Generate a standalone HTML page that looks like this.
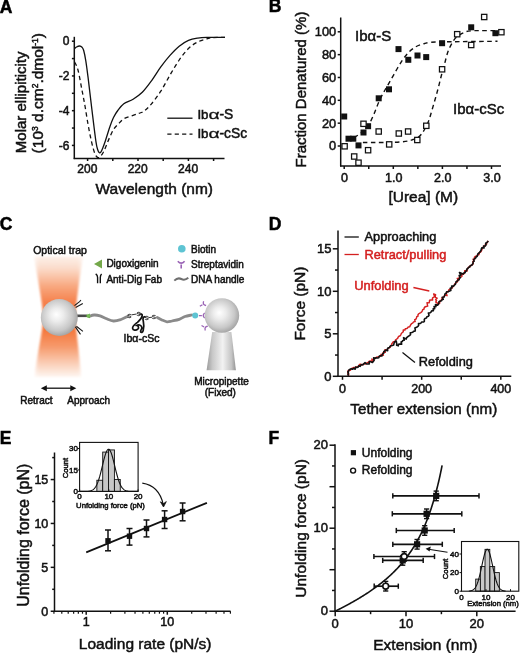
<!DOCTYPE html>
<html><head><meta charset="utf-8"><style>
html,body{margin:0;padding:0;background:#fff;}
svg{display:block;will-change:transform;}
text{font-family:"Liberation Sans", sans-serif;}
</style></head><body>
<svg width="520" height="653" viewBox="0 0 520 653">
<rect width="520" height="653" fill="#fff"/>
<text x="-0.30" y="12.70" font-size="17.5" text-anchor="start" font-weight="bold" stroke="#000" stroke-width="0.5" fill="#000" >A</text>
<text x="268.80" y="11.50" font-size="17.5" text-anchor="start" font-weight="bold" stroke="#000" stroke-width="0.5" fill="#000" >B</text>
<text x="-0.20" y="229.60" font-size="17.5" text-anchor="start" font-weight="bold" stroke="#000" stroke-width="0.5" fill="#000" >C</text>
<text x="268.80" y="229.50" font-size="17.5" text-anchor="start" font-weight="bold" stroke="#000" stroke-width="0.5" fill="#000" >D</text>
<text x="-0.30" y="443.90" font-size="17.5" text-anchor="start" font-weight="bold" stroke="#000" stroke-width="0.5" fill="#000" >E</text>
<text x="268.60" y="443.90" font-size="17.5" text-anchor="start" font-weight="bold" stroke="#000" stroke-width="0.5" fill="#000" >F</text>
<line x1="74.30" y1="36.80" x2="74.30" y2="159.10" stroke="#111" stroke-width="1.5" />
<line x1="73.70" y1="158.50" x2="224.50" y2="158.50" stroke="#111" stroke-width="1.5" />
<line x1="71.90" y1="41.20" x2="74.30" y2="41.20" stroke="#111" stroke-width="1.5" />
<line x1="71.90" y1="58.57" x2="74.30" y2="58.57" stroke="#111" stroke-width="1.5" />
<line x1="71.90" y1="75.94" x2="74.30" y2="75.94" stroke="#111" stroke-width="1.5" />
<line x1="71.90" y1="93.31" x2="74.30" y2="93.31" stroke="#111" stroke-width="1.5" />
<line x1="71.90" y1="110.68" x2="74.30" y2="110.68" stroke="#111" stroke-width="1.5" />
<line x1="71.90" y1="128.05" x2="74.30" y2="128.05" stroke="#111" stroke-width="1.5" />
<line x1="71.90" y1="145.42" x2="74.30" y2="145.42" stroke="#111" stroke-width="1.5" />
<text x="69.40" y="45.40" font-size="12" text-anchor="end" stroke="#111" stroke-width="0.5" fill="#111" >0</text>
<text x="69.40" y="80.14" font-size="12" text-anchor="end" stroke="#111" stroke-width="0.5" fill="#111" >-2</text>
<text x="69.40" y="114.88" font-size="12" text-anchor="end" stroke="#111" stroke-width="0.5" fill="#111" >-4</text>
<text x="69.40" y="149.62" font-size="12" text-anchor="end" stroke="#111" stroke-width="0.5" fill="#111" >-6</text>
<line x1="87.60" y1="158.50" x2="87.60" y2="161.00" stroke="#111" stroke-width="1.5" />
<line x1="112.80" y1="158.50" x2="112.80" y2="161.00" stroke="#111" stroke-width="1.5" />
<line x1="138.00" y1="158.50" x2="138.00" y2="161.00" stroke="#111" stroke-width="1.5" />
<line x1="163.20" y1="158.50" x2="163.20" y2="161.00" stroke="#111" stroke-width="1.5" />
<line x1="188.40" y1="158.50" x2="188.40" y2="161.00" stroke="#111" stroke-width="1.5" />
<line x1="213.60" y1="158.50" x2="213.60" y2="161.00" stroke="#111" stroke-width="1.5" />
<text x="87.30" y="173.00" font-size="12" text-anchor="middle" stroke="#111" stroke-width="0.5" fill="#111" >200</text>
<text x="137.70" y="173.00" font-size="12" text-anchor="middle" stroke="#111" stroke-width="0.5" fill="#111" >220</text>
<text x="188.10" y="173.00" font-size="12" text-anchor="middle" stroke="#111" stroke-width="0.5" fill="#111" >240</text>
<text x="154.30" y="193.60" font-size="15.5" text-anchor="middle" stroke="#111" stroke-width="0.5" fill="#111" >Wavelength (nm)</text>
<text transform="translate(26.30,153.20) rotate(-90)" font-size="15" text-anchor="start" stroke="#111" stroke-width="0.5" fill="#111" >Molar ellipiticity</text>
<text transform="translate(43.40,153.40) rotate(-90)" font-size="15.5" text-anchor="start" stroke="#111" stroke-width="0.5" fill="#111" >(10<tspan font-size="8.5" dy="-5.5">3</tspan><tspan dy="5.5"> d.cm</tspan><tspan font-size="8.5" dy="-5.5">2</tspan><tspan dy="5.5">.dmol</tspan><tspan font-size="8.5" dy="-5.5">-1</tspan><tspan dy="5.5">)</tspan></text>
<path d="M74.30,48.80 C74.67,48.50 75.62,47.47 76.50,47.00 C77.38,46.53 78.68,45.97 79.60,46.00 C80.52,46.03 81.32,46.45 82.00,47.20 C82.68,47.95 83.07,48.23 83.70,50.50 C84.33,52.77 85.07,56.27 85.80,60.80 C86.53,65.33 87.08,69.57 88.10,77.70 C89.12,85.83 90.60,98.98 91.90,109.60 C93.20,120.22 94.92,134.67 95.90,141.40 C96.88,148.13 97.22,148.12 97.80,150.00 C98.38,151.88 98.87,152.40 99.40,152.70 C99.93,153.00 100.43,152.58 101.00,151.80 C101.57,151.02 102.05,149.88 102.80,148.00 C103.55,146.12 104.33,144.00 105.50,140.50 C106.67,137.00 108.47,130.83 109.80,127.00 C111.13,123.17 112.17,120.25 113.50,117.50 C114.83,114.75 116.08,112.78 117.80,110.50 C119.52,108.22 121.25,105.68 123.80,103.80 C126.35,101.92 130.02,101.12 133.10,99.20 C136.18,97.28 139.23,95.37 142.30,92.30 C145.37,89.23 148.42,85.03 151.50,80.80 C154.58,76.57 157.72,71.13 160.80,66.90 C163.88,62.67 166.93,58.85 170.00,55.40 C173.07,51.95 176.12,48.70 179.20,46.20 C182.28,43.70 185.42,41.75 188.50,40.40 C191.58,39.05 194.63,38.60 197.70,38.10 C200.77,37.60 202.35,37.52 206.90,37.40 C211.45,37.28 221.98,37.40 225.00,37.40" stroke="#111" stroke-width="1.3" fill="none" />
<path d="M74.60,62.00 C75.17,63.33 76.78,65.38 78.00,70.00 C79.22,74.62 80.73,83.70 81.90,89.70 C83.07,95.70 84.00,100.37 85.00,106.00 C86.00,111.63 86.98,118.33 87.90,123.50 C88.82,128.67 89.67,133.02 90.50,137.00 C91.33,140.98 92.07,144.40 92.90,147.40 C93.73,150.40 94.65,153.30 95.50,155.00 C96.35,156.70 97.17,157.35 98.00,157.60 C98.83,157.85 99.53,157.53 100.50,156.50 C101.47,155.47 102.80,153.32 103.80,151.40 C104.80,149.48 105.50,147.40 106.50,145.00 C107.50,142.60 108.63,139.58 109.80,137.00 C110.97,134.42 112.17,131.58 113.50,129.50 C114.83,127.42 116.08,126.28 117.80,124.50 C119.52,122.72 121.25,120.32 123.80,118.80 C126.35,117.28 130.40,116.37 133.10,115.40 C135.80,114.43 138.08,113.77 140.00,113.00 C141.92,112.23 142.68,112.33 144.60,110.80 C146.52,109.27 148.80,107.07 151.50,103.80 C154.20,100.53 157.72,96.00 160.80,91.20 C163.88,86.40 166.93,80.20 170.00,75.00 C173.07,69.80 176.12,64.42 179.20,60.00 C182.28,55.58 185.42,51.50 188.50,48.50 C191.58,45.50 194.63,43.62 197.70,42.00 C200.77,40.38 204.52,39.53 206.90,38.80 C209.28,38.07 208.98,37.83 212.00,37.60 C215.02,37.37 222.83,37.43 225.00,37.40" stroke="#111" stroke-width="1.3" fill="none" stroke-dasharray="4.2 3.2"/>
<line x1="167.30" y1="118.20" x2="192.50" y2="118.20" stroke="#111" stroke-width="1.3" />
<line x1="167.30" y1="134.20" x2="192.50" y2="134.20" stroke="#111" stroke-width="1.3" stroke-dasharray="4.2 3.2"/>
<text x="197.40" y="119.40" font-size="13.3" text-anchor="start" stroke="#111" stroke-width="0.5" fill="#111" >Ib</text>
<text transform="translate(208.4,119.4) scale(1.45,1)" font-size="13.3" fill="#111" stroke="#111" stroke-width="0.3">α</text>
<text x="219.50" y="119.40" font-size="13.8" text-anchor="start" stroke="#111" stroke-width="0.5" fill="#111" >-S</text>
<text x="197.40" y="137.80" font-size="13.3" text-anchor="start" stroke="#111" stroke-width="0.5" fill="#111" >Ib</text>
<text transform="translate(208.4,137.8) scale(1.45,1)" font-size="13.3" fill="#111" stroke="#111" stroke-width="0.3">α</text>
<text x="219.50" y="137.80" font-size="13.8" text-anchor="start" stroke="#111" stroke-width="0.5" fill="#111" >-cSc</text>
<line x1="340.70" y1="17.50" x2="340.70" y2="166.60" stroke="#111" stroke-width="1.5" />
<line x1="340.10" y1="166.00" x2="501.00" y2="166.00" stroke="#111" stroke-width="1.5" />
<line x1="337.70" y1="146.00" x2="340.70" y2="146.00" stroke="#111" stroke-width="1.5" />
<line x1="337.70" y1="123.16" x2="340.70" y2="123.16" stroke="#111" stroke-width="1.5" />
<line x1="337.70" y1="100.32" x2="340.70" y2="100.32" stroke="#111" stroke-width="1.5" />
<line x1="337.70" y1="77.48" x2="340.70" y2="77.48" stroke="#111" stroke-width="1.5" />
<line x1="337.70" y1="54.64" x2="340.70" y2="54.64" stroke="#111" stroke-width="1.5" />
<line x1="337.70" y1="31.80" x2="340.70" y2="31.80" stroke="#111" stroke-width="1.5" />
<text x="336.20" y="150.40" font-size="12.8" text-anchor="end" stroke="#111" stroke-width="0.5" fill="#111" >0</text>
<text x="336.20" y="127.56" font-size="12.8" text-anchor="end" stroke="#111" stroke-width="0.5" fill="#111" >20</text>
<text x="336.20" y="104.72" font-size="12.8" text-anchor="end" stroke="#111" stroke-width="0.5" fill="#111" >40</text>
<text x="336.20" y="81.88" font-size="12.8" text-anchor="end" stroke="#111" stroke-width="0.5" fill="#111" >60</text>
<text x="336.20" y="59.04" font-size="12.8" text-anchor="end" stroke="#111" stroke-width="0.5" fill="#111" >80</text>
<text x="336.20" y="36.20" font-size="12.8" text-anchor="end" stroke="#111" stroke-width="0.5" fill="#111" >100</text>
<line x1="344.20" y1="166.00" x2="344.20" y2="169.00" stroke="#111" stroke-width="1.5" />
<line x1="368.75" y1="166.00" x2="368.75" y2="169.00" stroke="#111" stroke-width="1.5" />
<line x1="393.30" y1="166.00" x2="393.30" y2="169.00" stroke="#111" stroke-width="1.5" />
<line x1="417.85" y1="166.00" x2="417.85" y2="169.00" stroke="#111" stroke-width="1.5" />
<line x1="442.40" y1="166.00" x2="442.40" y2="169.00" stroke="#111" stroke-width="1.5" />
<line x1="466.95" y1="166.00" x2="466.95" y2="169.00" stroke="#111" stroke-width="1.5" />
<line x1="491.50" y1="166.00" x2="491.50" y2="169.00" stroke="#111" stroke-width="1.5" />
<text x="344.60" y="182.40" font-size="12.5" text-anchor="middle" stroke="#111" stroke-width="0.5" fill="#111" >0</text>
<text x="393.70" y="182.40" font-size="12.5" text-anchor="middle" stroke="#111" stroke-width="0.5" fill="#111" >1.0</text>
<text x="442.80" y="182.40" font-size="12.5" text-anchor="middle" stroke="#111" stroke-width="0.5" fill="#111" >2.0</text>
<text x="491.90" y="182.40" font-size="12.5" text-anchor="middle" stroke="#111" stroke-width="0.5" fill="#111" >3.0</text>
<text x="423.30" y="201.80" font-size="15.5" text-anchor="middle" stroke="#111" stroke-width="0.5" fill="#111" >[Urea] (M)</text>
<text transform="translate(305.90,167.50) rotate(-90)" font-size="15" text-anchor="start" stroke="#111" stroke-width="0.5" fill="#111" >Fraction Denatured (%)</text>
<text x="355.00" y="40.50" font-size="15" text-anchor="start" stroke="#111" stroke-width="0.5" fill="#111" >Ibα-S</text>
<text x="453.00" y="114.20" font-size="15" text-anchor="start" stroke="#111" stroke-width="0.5" fill="#111" >Ibα-cSc</text>
<path d="M346.50,140.60 C347.58,140.17 350.75,139.13 353.00,138.00 C355.25,136.87 358.00,135.22 360.00,133.80 C362.00,132.38 363.55,130.93 365.00,129.50 C366.45,128.07 367.20,127.78 368.70,125.20 C370.20,122.62 372.25,118.03 374.00,114.00 C375.75,109.97 377.37,105.00 379.20,101.00 C381.03,97.00 383.07,93.50 385.00,90.00 C386.93,86.50 388.80,83.50 390.80,80.00 C392.80,76.50 394.97,72.47 397.00,69.00 C399.03,65.53 401.00,62.03 403.00,59.20 C405.00,56.37 406.93,54.03 409.00,52.00 C411.07,49.97 413.07,48.33 415.40,47.00 C417.73,45.67 420.43,44.78 423.00,44.00 C425.57,43.22 426.97,42.67 430.80,42.30 C434.63,41.93 434.88,41.97 446.00,41.80 C457.12,41.63 488.92,41.38 497.50,41.30" stroke="#111" stroke-width="1.4" fill="none" stroke-dasharray="4.5 3.5"/>
<path d="M362.90,142.50 C364.92,142.50 370.68,142.50 375.00,142.50 C379.32,142.50 384.63,142.58 388.80,142.50 C392.97,142.42 396.80,142.25 400.00,142.00 C403.20,141.75 405.83,141.42 408.00,141.00 C410.17,140.58 411.38,140.05 413.00,139.50 C414.62,138.95 416.28,138.62 417.70,137.70 C419.12,136.78 420.22,135.62 421.50,134.00 C422.78,132.38 424.15,130.33 425.40,128.00 C426.65,125.67 427.90,123.00 429.00,120.00 C430.10,117.00 430.92,113.67 432.00,110.00 C433.08,106.33 434.42,101.83 435.50,98.00 C436.58,94.17 437.50,90.83 438.50,87.00 C439.50,83.17 440.48,78.87 441.50,75.00 C442.52,71.13 443.60,67.47 444.60,63.80 C445.60,60.13 446.47,56.07 447.50,53.00 C448.53,49.93 449.38,47.97 450.80,45.40 C452.22,42.83 453.70,39.80 456.00,37.60 C458.30,35.40 461.93,33.33 464.60,32.20 C467.27,31.07 469.43,31.07 472.00,30.80 C474.57,30.53 475.75,30.63 480.00,30.60 C484.25,30.57 494.58,30.60 497.50,30.60" stroke="#111" stroke-width="1.4" fill="none" stroke-dasharray="4.5 3.5"/>
<rect x="341.20" y="113.50" width="6.0" height="6.0" fill="#111"/>
<rect x="345.50" y="135.70" width="6.0" height="6.0" fill="#111"/>
<rect x="350.30" y="135.70" width="6.0" height="6.0" fill="#111"/>
<rect x="355.50" y="142.40" width="6.0" height="6.0" fill="#111"/>
<rect x="360.50" y="129.50" width="6.0" height="6.0" fill="#111"/>
<rect x="365.10" y="123.20" width="6.0" height="6.0" fill="#111"/>
<rect x="375.70" y="95.30" width="6.0" height="6.0" fill="#111"/>
<rect x="386.00" y="86.30" width="6.0" height="6.0" fill="#111"/>
<rect x="395.50" y="46.10" width="6.0" height="6.0" fill="#111"/>
<rect x="405.30" y="56.80" width="6.0" height="6.0" fill="#111"/>
<rect x="414.50" y="52.50" width="6.0" height="6.0" fill="#111"/>
<rect x="423.20" y="54.10" width="6.0" height="6.0" fill="#111"/>
<rect x="439.10" y="40.20" width="6.0" height="6.0" fill="#111"/>
<rect x="468.20" y="24.30" width="6.0" height="6.0" fill="#111"/>
<rect x="492.40" y="30.20" width="6.0" height="6.0" fill="#111"/>
<rect x="341.95" y="143.65" width="5.3" height="5.3" fill="#fff" stroke="#111" stroke-width="1.25"/>
<rect x="351.55" y="153.85" width="5.3" height="5.3" fill="#fff" stroke="#111" stroke-width="1.25"/>
<rect x="355.85" y="160.05" width="5.3" height="5.3" fill="#fff" stroke="#111" stroke-width="1.25"/>
<rect x="360.85" y="121.15" width="5.3" height="5.3" fill="#fff" stroke="#111" stroke-width="1.25"/>
<rect x="365.45" y="147.55" width="5.3" height="5.3" fill="#fff" stroke="#111" stroke-width="1.25"/>
<rect x="376.05" y="128.85" width="5.3" height="5.3" fill="#fff" stroke="#111" stroke-width="1.25"/>
<rect x="386.55" y="141.75" width="5.3" height="5.3" fill="#fff" stroke="#111" stroke-width="1.25"/>
<rect x="396.15" y="130.85" width="5.3" height="5.3" fill="#fff" stroke="#111" stroke-width="1.25"/>
<rect x="405.45" y="128.85" width="5.3" height="5.3" fill="#fff" stroke="#111" stroke-width="1.25"/>
<rect x="414.65" y="137.35" width="5.3" height="5.3" fill="#fff" stroke="#111" stroke-width="1.25"/>
<rect x="423.65" y="123.15" width="5.3" height="5.3" fill="#fff" stroke="#111" stroke-width="1.25"/>
<rect x="439.45" y="66.65" width="5.3" height="5.3" fill="#fff" stroke="#111" stroke-width="1.25"/>
<rect x="454.55" y="31.55" width="5.3" height="5.3" fill="#fff" stroke="#111" stroke-width="1.25"/>
<rect x="468.55" y="42.35" width="5.3" height="5.3" fill="#fff" stroke="#111" stroke-width="1.25"/>
<rect x="481.55" y="14.35" width="5.3" height="5.3" fill="#fff" stroke="#111" stroke-width="1.25"/>
<rect x="498.75" y="29.55" width="5.3" height="5.3" fill="#fff" stroke="#111" stroke-width="1.25"/>
<defs>
<linearGradient id="beam" gradientUnits="userSpaceOnUse" x1="0" y1="256" x2="0" y2="377">
 <stop offset="0" stop-color="#fdf1ea"/>
 <stop offset="0.1" stop-color="#fbdccb"/>
 <stop offset="0.25" stop-color="#f8a880"/>
 <stop offset="0.38" stop-color="#f5824d"/>
 <stop offset="0.5" stop-color="#f47236"/>
 <stop offset="0.62" stop-color="#f47a40"/>
 <stop offset="0.75" stop-color="#f69a6c"/>
 <stop offset="0.88" stop-color="#facbb2"/>
 <stop offset="1" stop-color="#fef6f1"/>
</linearGradient>
<filter id="soft" x="-0.1" y="-0.05" width="1.2" height="1.1"><feGaussianBlur stdDeviation="0.9"/></filter>
<linearGradient id="beamH" gradientUnits="objectBoundingBox" x1="0" y1="0" x2="1" y2="0">
 <stop offset="0" stop-color="#fff" stop-opacity="0.5"/>
 <stop offset="0.12" stop-color="#fff" stop-opacity="0"/>
 <stop offset="0.88" stop-color="#fff" stop-opacity="0"/>
 <stop offset="1" stop-color="#fff" stop-opacity="0.5"/>
</linearGradient>
<radialGradient id="bead" cx="0.46" cy="0.45" r="0.6" fx="0.42" fy="0.42">
 <stop offset="0" stop-color="#ffffff"/>
 <stop offset="0.3" stop-color="#ececec"/>
 <stop offset="0.7" stop-color="#c8c8c8"/>
 <stop offset="1" stop-color="#9a9a9a"/>
</radialGradient>
<linearGradient id="pip" x1="0" y1="0" x2="1" y2="0">
 <stop offset="0" stop-color="#9c9c9c"/>
 <stop offset="0.2" stop-color="#c8c8c8"/>
 <stop offset="0.55" stop-color="#f2f2f2"/>
 <stop offset="0.85" stop-color="#c4c4c4"/>
 <stop offset="1" stop-color="#939393"/>
</linearGradient>
</defs>
<g filter="url(#soft)"><path d="M34.0,256.5 L83.0,256.5 C80,275 76.5,300 75,317.5 C76.5,335 79.5,355 81.3,377 L34.5,377 C37,355 42,335 43.5,317.5 C42,300 37,275 34.0,256.5 Z" fill="url(#beam)"/><path d="M34.0,256.5 L83.0,256.5 C80,275 76.5,300 75,317.5 C76.5,335 79.5,355 81.3,377 L34.5,377 C37,355 42,335 43.5,317.5 C42,300 37,275 34.0,256.5 Z" fill="url(#beamH)"/></g>
<text x="60.00" y="254.20" font-size="10.5" text-anchor="middle" stroke="#111" stroke-width="0.5" fill="#111" >Optical trap</text>
<path d="M74.5,305.6 L79.6,301.6 Q80.4,300.8 80.9,300.0 M75.6,307.5 L82.8,303.4" stroke="#1a1a1a" stroke-width="1.1" fill="none" />
<path d="M75.2,326.6 L80.5,334.4 M76.4,326.3 L82.9,331.4" stroke="#1a1a1a" stroke-width="1.1" fill="none" />
<path d="M89.00,316.40 C89.85,316.17 92.27,315.10 94.10,315.00 C95.93,314.90 98.02,315.22 100.00,315.80 C101.98,316.38 103.75,317.63 106.00,318.50 C108.25,319.37 111.00,320.83 113.50,321.00 C116.00,321.17 118.67,320.25 121.00,319.50 C123.33,318.75 126.42,317.00 127.50,316.50" stroke="#8a8a8a" stroke-width="2.8" fill="none" stroke-linecap="round"/>
<line x1="76.00" y1="315.80" x2="87.00" y2="315.80" stroke="#4a4a4a" stroke-width="2.6" />
<circle cx="59.3" cy="317.5" r="18.5" fill="url(#bead)"/>
<path d="M85.4,315.9 L89.8,313.6 L89.8,318.2 Z" fill="#5fa943"/>
<path d="M91.2,315.9 L87.2,313.8 L87.2,318.0 Z" fill="#7bbf5c" opacity="0.85"/>
<path d="M94,264 L102,259.6 L102,268.4 Z" fill="#74a84a"/>
<text x="106.40" y="267.40" font-size="10" text-anchor="start" stroke="#111" stroke-width="0.5" fill="#111" >Digoxigenin</text>
<path d="M95.7,273.9 Q97.6,275.2 97.6,277.5 L97.6,283.3 M101.6,273.9 Q100.3,275.2 100.3,277.5 L100.3,283.3" stroke="#111" stroke-width="1.4" fill="none"/>
<text x="106.40" y="282.60" font-size="10" text-anchor="start" stroke="#111" stroke-width="0.5" fill="#111" >Anti-Dig Fab</text>
<circle cx="181.8" cy="248.8" r="3.8" fill="#5ec4d3"/>
<text x="191.00" y="253.30" font-size="10" text-anchor="start" stroke="#111" stroke-width="0.5" fill="#111" >Biotin</text>
<path d="M177.8,261.2 Q181.2,265 184.6,261.2 M181.2,264.4 L181.2,268.4" stroke="#9a63b5" stroke-width="1.6" fill="none"/>
<text x="191.00" y="268.00" font-size="10" text-anchor="start" stroke="#111" stroke-width="0.5" fill="#111" >Streptavidin</text>
<path d="M174.3,280.6 Q177.8,277.2 181.3,279 T188.3,277.8" stroke="#6f6f6f" stroke-width="2.0" fill="none" />
<text x="191.00" y="282.70" font-size="10" text-anchor="start" stroke="#111" stroke-width="0.5" fill="#111" >DNA handle</text>
<line x1="131.40" y1="314.90" x2="136.60" y2="314.00" stroke="#333" stroke-width="1.0" />
<line x1="148.30" y1="317.70" x2="152.10" y2="317.20" stroke="#333" stroke-width="1.0" />
<text x="129.40" y="317.70" font-size="6.2" text-anchor="middle" stroke="#333" stroke-width="0.3" fill="#333" >S</text>
<text x="138.50" y="315.70" font-size="6.2" text-anchor="middle" stroke="#333" stroke-width="0.3" fill="#333" >S</text>
<text x="146.50" y="320.40" font-size="6.2" text-anchor="middle" stroke="#333" stroke-width="0.3" fill="#333" >S</text>
<text x="153.90" y="319.00" font-size="6.2" text-anchor="middle" stroke="#333" stroke-width="0.3" fill="#333" >S</text>
<path d="M139.5,314.1 C141,313.8 142.5,314 142.2,315.5 C141.8,318 139.5,320.5 137.5,322.3 C135,324.3 132.2,326 132.6,328.3 C133,330.5 136,330.8 137.8,329.2 C139.5,327.6 138,325.6 136.8,325.4 C138.5,324.3 141,325 141.8,327.2 C142.3,329 140.3,330 140.6,331.7 C141,333 142.8,332.5 143.2,330.5 C143.8,328 144,324.5 143.4,322 C142.9,320 142.7,318.2 143.5,317.2 L145.3,316.6" stroke="#111" stroke-width="1.7" fill="none" />
<text x="141.50" y="342.20" font-size="10.5" text-anchor="middle" stroke="#111" stroke-width="0.5" fill="#111" >Ib<tspan>α</tspan>-cSc</text>
<path d="M157.30,317.40 C158.08,317.83 160.38,319.27 162.00,320.00 C163.62,320.73 165.33,321.63 167.00,321.80 C168.67,321.97 169.97,321.40 172.00,321.00 C174.03,320.60 177.03,320.15 179.20,319.40 C181.37,318.65 182.92,317.23 185.00,316.50 C187.08,315.77 190.58,315.25 191.70,315.00" stroke="#8a8a8a" stroke-width="2.8" fill="none" stroke-linecap="round"/>
<circle cx="195.2" cy="315.6" r="3" fill="#5ec4d3"/>
<path transform="translate(202.7,304.6) rotate(-30)" d="M2.5,-2.5 Q-0.5,0 2.5,2.5 M-0.3,0 L-3.3,0" stroke="#9a63b5" stroke-width="1.3" fill="none"/>
<path transform="translate(202.2,315.6) rotate(0)" d="M2.5,-2.5 Q-0.5,0 2.5,2.5 M-0.3,0 L-3.3,0" stroke="#9a63b5" stroke-width="1.3" fill="none"/>
<path transform="translate(204.4,327.1) rotate(30)" d="M2.5,-2.5 Q-0.5,0 2.5,2.5 M-0.3,0 L-3.3,0" stroke="#9a63b5" stroke-width="1.3" fill="none"/>
<path d="M212.2,332 L231.4,332 L235.9,370.2 L206.6,370.2 Z" fill="url(#pip)"/>
<circle cx="221.9" cy="315.5" r="17.3" fill="url(#bead)"/>
<text x="221.50" y="384.80" font-size="10" text-anchor="middle" stroke="#111" stroke-width="0.5" fill="#111" >Micropipette</text>
<text x="220.30" y="396.20" font-size="10" text-anchor="middle" stroke="#111" stroke-width="0.5" fill="#111" >(Fixed)</text>
<line x1="44.00" y1="388.20" x2="73.00" y2="388.20" stroke="#111" stroke-width="1.3" />
<path d="M40.8,388.2 L46.8,385.2 L46.8,391.2 Z" fill="#111"/>
<path d="M76.3,388.2 L70.3,385.2 L70.3,391.2 Z" fill="#111"/>
<text x="20.30" y="404.30" font-size="10" text-anchor="start" stroke="#111" stroke-width="0.5" fill="#111" >Retract</text>
<text x="67.30" y="404.30" font-size="10" text-anchor="start" stroke="#111" stroke-width="0.5" fill="#111" >Approach</text>
<line x1="338.00" y1="230.50" x2="338.00" y2="376.90" stroke="#111" stroke-width="1.5" />
<line x1="337.40" y1="376.30" x2="511.30" y2="376.30" stroke="#111" stroke-width="1.5" />
<line x1="332.80" y1="376.30" x2="338.00" y2="376.30" stroke="#111" stroke-width="1.5" />
<line x1="335.00" y1="355.05" x2="338.00" y2="355.05" stroke="#111" stroke-width="1.5" />
<line x1="332.80" y1="333.80" x2="338.00" y2="333.80" stroke="#111" stroke-width="1.5" />
<line x1="335.00" y1="312.55" x2="338.00" y2="312.55" stroke="#111" stroke-width="1.5" />
<line x1="332.80" y1="291.30" x2="338.00" y2="291.30" stroke="#111" stroke-width="1.5" />
<line x1="335.00" y1="270.05" x2="338.00" y2="270.05" stroke="#111" stroke-width="1.5" />
<line x1="332.80" y1="248.80" x2="338.00" y2="248.80" stroke="#111" stroke-width="1.5" />
<text x="331.40" y="380.90" font-size="13" text-anchor="end" stroke="#111" stroke-width="0.5" fill="#111" >0</text>
<text x="331.40" y="338.40" font-size="13" text-anchor="end" stroke="#111" stroke-width="0.5" fill="#111" >5</text>
<text x="331.40" y="295.90" font-size="13" text-anchor="end" stroke="#111" stroke-width="0.5" fill="#111" >10</text>
<text x="331.40" y="253.40" font-size="13" text-anchor="end" stroke="#111" stroke-width="0.5" fill="#111" >15</text>
<line x1="342.50" y1="376.30" x2="342.50" y2="379.80" stroke="#111" stroke-width="1.5" />
<line x1="382.08" y1="376.30" x2="382.08" y2="379.80" stroke="#111" stroke-width="1.5" />
<line x1="421.66" y1="376.30" x2="421.66" y2="379.80" stroke="#111" stroke-width="1.5" />
<line x1="461.24" y1="376.30" x2="461.24" y2="379.80" stroke="#111" stroke-width="1.5" />
<line x1="500.82" y1="376.30" x2="500.82" y2="379.80" stroke="#111" stroke-width="1.5" />
<text x="342.50" y="392.60" font-size="12.5" text-anchor="middle" stroke="#111" stroke-width="0.5" fill="#111" >0</text>
<text x="421.66" y="392.60" font-size="12.5" text-anchor="middle" stroke="#111" stroke-width="0.5" fill="#111" >200</text>
<text x="500.82" y="392.60" font-size="12.5" text-anchor="middle" stroke="#111" stroke-width="0.5" fill="#111" >400</text>
<text x="423.80" y="414.30" font-size="15.2" text-anchor="middle" stroke="#111" stroke-width="0.5" fill="#111" >Tether extension (nm)</text>
<text transform="translate(305.30,340.60) rotate(-90)" font-size="15.5" text-anchor="start" stroke="#111" stroke-width="0.5" fill="#111" >Force (pN)</text>
<line x1="344.50" y1="237.00" x2="358.80" y2="237.00" stroke="#111" stroke-width="1.3" />
<text x="364.50" y="240.80" font-size="12.8" text-anchor="start" stroke="#111" stroke-width="0.5" fill="#111" >Approaching</text>
<line x1="344.50" y1="254.50" x2="358.80" y2="254.50" stroke="#d42020" stroke-width="1.3" />
<text x="364.50" y="258.80" font-size="12.8" text-anchor="start" stroke="#d42020" stroke-width="0.5" fill="#d42020" >Retract/pulling</text>
<text x="354.20" y="290.30" font-size="12.9" text-anchor="start" stroke="#d42020" stroke-width="0.5" fill="#d42020" >Unfolding</text>
<line x1="413.40" y1="287.50" x2="429.30" y2="291.00" stroke="#d42020" stroke-width="1.3" />
<text x="418.80" y="366.30" font-size="12.8" text-anchor="start" stroke="#111" stroke-width="0.5" fill="#111" >Refolding</text>
<line x1="402.50" y1="352.50" x2="415.00" y2="362.50" stroke="#111" stroke-width="1.3" />
<path d="M348.15,375.80 L348.79,374.50 L347.79,373.20 L347.96,371.90 L348.09,370.58 L349.39,370.51 L350.50,369.98 L351.32,368.72 L352.39,368.08 L353.45,367.55 L354.79,367.74 L355.79,367.18 L356.88,366.83 L357.99,366.51 L358.87,365.71 L359.53,364.43 L360.71,364.25 L362.32,365.03 L363.14,364.18 L364.20,363.59 L365.50,364.08 L366.49,363.16 L367.55,362.51 L368.79,362.78 L369.18,361.29 L370.39,360.97 L372.29,361.66 L371.91,359.04 L374.15,360.22 L374.04,357.87 L375.52,358.14 L376.34,357.32 L377.48,357.01 L378.57,356.63 L379.87,356.60 L380.75,355.68 L381.06,354.35 L383.40,355.26 L382.80,352.94 L383.64,352.19 L385.31,352.35 L384.66,349.98 L386.14,349.94 L387.34,349.49 L387.96,348.47 L389.02,347.89 L390.22,347.43 L390.48,346.06 L391.39,345.33 L391.66,343.98 L392.49,342.89 L393.32,341.81 L395.12,341.61 L395.42,340.05 L396.47,339.22 L397.64,338.50 L398.06,337.15 L398.94,336.18 L400.28,335.79 L400.89,334.58 L401.45,333.31 L402.40,332.52 L403.31,331.67 L403.25,329.95 L404.95,330.05 L405.31,328.81 L406.71,328.61 L407.61,327.91 L408.24,326.94 L409.81,326.85 L410.21,325.56 L410.90,324.52 L411.69,323.56 L412.88,322.93 L413.57,321.90 L415.18,321.49 L414.71,319.70 L415.94,319.11 L416.43,318.00 L416.73,316.76 L418.00,316.20 L417.99,314.74 L418.75,313.75 L419.75,313.15 L420.73,312.53 L421.69,311.89 L422.32,310.92 L422.66,309.66 L423.90,309.27 L424.16,307.99 L424.80,306.99 L426.12,306.49 L427.66,306.15 L427.33,304.44 L427.00,302.73 L429.08,302.88 L429.48,301.68 L429.56,300.16 L431.01,300.01 L432.66,300.06 L432.43,298.23 L433.00,297.53 L434.62,296.56 L433.98,294.81 L433.65,293.89 L435.59,294.70 L435.25,296.05 L435.34,297.29 L437.11,298.15 L435.65,299.75 L436.57,300.70 L435.73,302.04 L437.26,302.85 L437.41,304.27 L438.67,303.87 L439.70,303.15 L439.74,301.70 L440.38,300.68 L441.47,300.01 L441.96,298.88 L442.12,297.51 L443.78,297.26 L444.20,296.08 L444.86,295.09 L447.07,295.64 L446.16,292.98 L447.03,292.07 L448.36,291.61 L448.62,290.09 L449.62,289.31 L451.05,288.95 L451.95,288.05 L452.71,287.01 L453.52,286.02 L454.38,285.08 L454.83,283.73 L455.71,282.92 L456.94,282.39 L456.82,280.90 L458.42,280.62 L457.27,278.40 L459.26,278.40 L459.25,276.99 L461.15,276.93 L462.00,276.20 L461.73,274.41 L463.49,274.34 L464.25,273.41 L464.65,272.18 L464.66,270.62 L467.01,271.04 L467.11,269.61 L467.74,268.44 L468.35,267.25 L469.89,266.99 L470.23,265.53 L471.84,265.34 L472.84,264.25 L473.34,263.25 L472.85,261.71 L473.86,260.98 L473.07,259.28 L474.85,258.97 L474.38,257.22 L475.40,256.44 L476.59,255.78 L477.67,255.04 L479.03,254.52 L478.89,252.84 L480.27,252.33 L481.15,251.43 L481.64,250.36 L482.06,249.24 L482.48,248.13 L483.18,247.21 L483.63,246.11 L485.23,245.86 L485.32,244.50 L486.62,244.02 L486.57,242.56 L487.65,241.93 L488.20,240.90" stroke="#d42020" stroke-width="1.45" fill="none" stroke-linejoin="round"/>
<path d="M348.58,375.80 L347.91,374.50 L348.54,373.20 L347.81,371.90 L348.41,371.54 L349.10,369.79 L350.20,369.29 L351.32,368.85 L352.69,369.16 L353.60,368.24 L355.25,369.18 L355.51,366.98 L356.95,367.44 L358.08,367.21 L358.66,365.73 L360.17,366.35 L360.82,365.03 L361.88,364.63 L363.12,364.69 L364.07,363.61 L365.05,362.63 L366.56,364.00 L367.77,364.02 L369.30,364.04 L369.15,361.74 L370.58,361.78 L372.48,362.52 L373.25,361.57 L374.02,360.62 L373.64,357.75 L375.32,358.42 L376.18,357.66 L377.65,357.96 L378.79,357.68 L379.23,356.22 L380.18,355.75 L381.87,355.98 L382.22,354.70 L382.78,353.65 L383.82,353.14 L383.81,351.47 L384.92,351.04 L385.50,350.11 L387.70,350.64 L387.46,348.78 L388.20,347.88 L389.47,347.50 L390.00,346.39 L390.96,345.71 L392.33,345.42 L393.72,344.92 L393.99,343.33 L394.57,342.04 L396.26,340.99 L396.46,342.32 L396.73,343.63 L396.62,345.34 L398.32,345.82 L398.48,344.39 L399.83,344.06 L401.70,344.22 L401.09,342.06 L402.23,341.54 L402.78,340.47 L404.24,340.25 L403.55,337.67 L406.19,339.04 L406.68,337.69 L407.60,336.87 L408.55,336.09 L409.68,335.48 L410.51,334.71 L410.29,332.89 L411.55,332.55 L412.78,332.18 L413.51,331.31 L414.94,331.14 L415.32,329.92 L414.87,327.87 L416.02,327.42 L417.20,327.00 L418.05,326.25 L418.64,325.24 L418.47,323.47 L420.15,323.55 L421.11,322.91 L421.74,321.94 L423.44,322.04 L424.38,321.29 L424.28,319.55 L425.00,318.50 L426.46,318.08 L426.90,316.79 L428.34,316.35 L429.03,315.27 L428.36,313.09 L430.02,312.83 L431.01,312.02 L431.64,310.92 L433.42,310.77 L433.16,308.89 L434.69,308.69 L434.05,306.49 L435.95,306.65 L435.47,304.60 L437.79,305.13 L438.47,304.12 L438.74,302.94 L438.96,301.73 L440.03,301.13 L441.45,300.77 L442.01,299.80 L443.22,299.29 L442.36,297.31 L443.94,297.07 L444.48,296.08 L444.76,294.91 L445.10,293.70 L446.36,293.18 L446.65,291.69 L448.41,291.65 L449.52,290.98 L450.86,290.53 L450.25,288.15 L451.94,288.04 L451.65,285.95 L453.67,286.17 L454.34,285.04 L455.40,284.30 L455.74,282.95 L456.00,281.72 L457.36,281.28 L457.66,280.08 L459.17,279.74 L459.23,278.38 L460.38,277.79 L459.20,275.55 L460.85,275.24 L459.50,272.53 L463.16,274.05 L463.81,273.03 L465.18,272.63 L465.50,271.33 L466.60,270.69 L466.71,269.21 L467.81,268.51 L468.55,267.45 L469.69,266.79 L470.33,265.63 L471.65,265.15 L472.58,264.11 L473.06,263.09 L473.11,261.85 L474.18,261.15 L473.70,259.62 L474.51,258.79 L475.59,258.15 L476.12,256.98 L477.23,256.27 L477.54,254.95 L477.93,253.67 L479.16,253.05 L479.83,252.00 L480.59,251.02 L481.17,250.01 L481.38,248.74 L481.89,247.69 L484.12,247.90 L483.59,246.08 L485.27,245.89 L485.99,244.99 L485.64,243.30 L486.73,242.68 L487.53,241.83 L488.20,240.90" stroke="#111" stroke-width="1.6" fill="none" stroke-linejoin="round"/>
<line x1="54.50" y1="452.50" x2="54.50" y2="611.80" stroke="#111" stroke-width="1.5" />
<line x1="53.90" y1="611.20" x2="230.60" y2="611.20" stroke="#111" stroke-width="1.5" />
<line x1="50.70" y1="611.25" x2="54.50" y2="611.25" stroke="#111" stroke-width="1.5" />
<line x1="52.20" y1="589.30" x2="54.50" y2="589.30" stroke="#111" stroke-width="1.5" />
<line x1="50.70" y1="567.35" x2="54.50" y2="567.35" stroke="#111" stroke-width="1.5" />
<line x1="52.20" y1="545.40" x2="54.50" y2="545.40" stroke="#111" stroke-width="1.5" />
<line x1="50.70" y1="523.45" x2="54.50" y2="523.45" stroke="#111" stroke-width="1.5" />
<line x1="52.20" y1="501.50" x2="54.50" y2="501.50" stroke="#111" stroke-width="1.5" />
<line x1="50.70" y1="479.55" x2="54.50" y2="479.55" stroke="#111" stroke-width="1.5" />
<line x1="52.20" y1="457.60" x2="54.50" y2="457.60" stroke="#111" stroke-width="1.5" />
<text x="48.30" y="615.85" font-size="12.5" text-anchor="end" stroke="#111" stroke-width="0.5" fill="#111" >0</text>
<text x="48.30" y="571.95" font-size="12.5" text-anchor="end" stroke="#111" stroke-width="0.5" fill="#111" >5</text>
<text x="48.30" y="528.05" font-size="12.5" text-anchor="end" stroke="#111" stroke-width="0.5" fill="#111" >10</text>
<text x="48.30" y="484.15" font-size="12.5" text-anchor="end" stroke="#111" stroke-width="0.5" fill="#111" >15</text>
<line x1="53.93" y1="611.20" x2="53.93" y2="613.70" stroke="#111" stroke-width="1.2" />
<line x1="61.79" y1="611.20" x2="61.79" y2="613.70" stroke="#111" stroke-width="1.2" />
<line x1="68.21" y1="611.20" x2="68.21" y2="613.70" stroke="#111" stroke-width="1.2" />
<line x1="73.64" y1="611.20" x2="73.64" y2="613.70" stroke="#111" stroke-width="1.2" />
<line x1="78.34" y1="611.20" x2="78.34" y2="613.70" stroke="#111" stroke-width="1.2" />
<line x1="82.49" y1="611.20" x2="82.49" y2="613.70" stroke="#111" stroke-width="1.2" />
<line x1="110.61" y1="611.20" x2="110.61" y2="613.70" stroke="#111" stroke-width="1.2" />
<line x1="124.89" y1="611.20" x2="124.89" y2="613.70" stroke="#111" stroke-width="1.2" />
<line x1="135.03" y1="611.20" x2="135.03" y2="613.70" stroke="#111" stroke-width="1.2" />
<line x1="142.89" y1="611.20" x2="142.89" y2="613.70" stroke="#111" stroke-width="1.2" />
<line x1="149.31" y1="611.20" x2="149.31" y2="613.70" stroke="#111" stroke-width="1.2" />
<line x1="154.74" y1="611.20" x2="154.74" y2="613.70" stroke="#111" stroke-width="1.2" />
<line x1="159.44" y1="611.20" x2="159.44" y2="613.70" stroke="#111" stroke-width="1.2" />
<line x1="163.59" y1="611.20" x2="163.59" y2="613.70" stroke="#111" stroke-width="1.2" />
<line x1="191.71" y1="611.20" x2="191.71" y2="613.70" stroke="#111" stroke-width="1.2" />
<line x1="205.99" y1="611.20" x2="205.99" y2="613.70" stroke="#111" stroke-width="1.2" />
<line x1="216.13" y1="611.20" x2="216.13" y2="613.70" stroke="#111" stroke-width="1.2" />
<line x1="223.99" y1="611.20" x2="223.99" y2="613.70" stroke="#111" stroke-width="1.2" />
<line x1="230.41" y1="611.20" x2="230.41" y2="613.70" stroke="#111" stroke-width="1.2" />
<line x1="86.20" y1="611.20" x2="86.20" y2="614.70" stroke="#111" stroke-width="1.5" />
<line x1="167.30" y1="611.20" x2="167.30" y2="614.70" stroke="#111" stroke-width="1.5" />
<text x="86.20" y="626.30" font-size="12.5" text-anchor="middle" stroke="#111" stroke-width="0.5" fill="#111" >1</text>
<text x="167.30" y="626.30" font-size="12.5" text-anchor="middle" stroke="#111" stroke-width="0.5" fill="#111" >10</text>
<text x="145.20" y="649.00" font-size="15.5" text-anchor="middle" stroke="#111" stroke-width="0.5" fill="#111" >Loading rate (pN/s)</text>
<text transform="translate(28.50,606.80) rotate(-90)" font-size="16" text-anchor="start" stroke="#111" stroke-width="0.5" fill="#111" >Unfolding force (pN)</text>
<line x1="86.20" y1="552.30" x2="206.90" y2="502.80" stroke="#111" stroke-width="1.8" />
<line x1="108.00" y1="530.00" x2="108.00" y2="550.80" stroke="#111" stroke-width="1.5" />
<line x1="105.00" y1="530.00" x2="111.00" y2="530.00" stroke="#111" stroke-width="1.5" />
<line x1="105.00" y1="550.80" x2="111.00" y2="550.80" stroke="#111" stroke-width="1.5" />
<rect x="105.30" y="538.10" width="5.4" height="5.4" fill="#111"/>
<line x1="129.50" y1="528.50" x2="129.50" y2="545.10" stroke="#111" stroke-width="1.5" />
<line x1="126.50" y1="528.50" x2="132.50" y2="528.50" stroke="#111" stroke-width="1.5" />
<line x1="126.50" y1="545.10" x2="132.50" y2="545.10" stroke="#111" stroke-width="1.5" />
<rect x="126.80" y="533.50" width="5.4" height="5.4" fill="#111"/>
<line x1="146.50" y1="520.00" x2="146.50" y2="536.90" stroke="#111" stroke-width="1.5" />
<line x1="143.50" y1="520.00" x2="149.50" y2="520.00" stroke="#111" stroke-width="1.5" />
<line x1="143.50" y1="536.90" x2="149.50" y2="536.90" stroke="#111" stroke-width="1.5" />
<rect x="143.80" y="525.80" width="5.4" height="5.4" fill="#111"/>
<line x1="164.60" y1="510.80" x2="164.60" y2="528.50" stroke="#111" stroke-width="1.5" />
<line x1="161.60" y1="510.80" x2="167.60" y2="510.80" stroke="#111" stroke-width="1.5" />
<line x1="161.60" y1="528.50" x2="167.60" y2="528.50" stroke="#111" stroke-width="1.5" />
<rect x="161.90" y="516.80" width="5.4" height="5.4" fill="#111"/>
<line x1="182.60" y1="503.00" x2="182.60" y2="520.80" stroke="#111" stroke-width="1.5" />
<line x1="179.60" y1="503.00" x2="185.60" y2="503.00" stroke="#111" stroke-width="1.5" />
<line x1="179.60" y1="520.80" x2="185.60" y2="520.80" stroke="#111" stroke-width="1.5" />
<rect x="179.90" y="508.80" width="5.4" height="5.4" fill="#111"/>
<rect x="96.86" y="480.25" width="5.85" height="11.15" fill="#c8c8c8" stroke="#111" stroke-width="0.9"/>
<rect x="102.71" y="452.07" width="5.85" height="39.32" fill="#c8c8c8" stroke="#111" stroke-width="0.9"/>
<rect x="108.56" y="449.93" width="5.85" height="41.47" fill="#c8c8c8" stroke="#111" stroke-width="0.9"/>
<rect x="114.41" y="479.53" width="5.85" height="11.87" fill="#c8c8c8" stroke="#111" stroke-width="0.9"/>
<path d="M79.60,491.40 L80.09,491.40 L80.57,491.40 L81.06,491.40 L81.55,491.40 L82.04,491.40 L82.52,491.39 L83.01,491.39 L83.50,491.39 L83.99,491.39 L84.47,491.38 L84.96,491.37 L85.45,491.36 L85.94,491.35 L86.42,491.34 L86.91,491.32 L87.40,491.29 L87.89,491.25 L88.38,491.21 L88.86,491.15 L89.35,491.08 L89.84,490.99 L90.32,490.88 L90.81,490.75 L91.30,490.59 L91.79,490.38 L92.27,490.14 L92.76,489.85 L93.25,489.51 L93.74,489.10 L94.22,488.63 L94.71,488.07 L95.20,487.43 L95.69,486.70 L96.17,485.87 L96.66,484.93 L97.15,483.88 L97.64,482.71 L98.12,481.43 L98.61,480.03 L99.10,478.51 L99.59,476.88 L100.07,475.14 L100.56,473.32 L101.05,471.41 L101.54,469.44 L102.02,467.44 L102.51,465.41 L103.00,463.38 L103.49,461.39 L103.97,459.46 L104.46,457.62 L104.95,455.90 L105.44,454.32 L105.92,452.92 L106.41,451.71 L106.90,450.72 L107.39,449.97 L107.87,449.47 L108.36,449.24 L108.85,449.26 L109.34,449.55 L109.82,450.10 L110.31,450.90 L110.80,451.93 L111.29,453.18 L111.77,454.62 L112.26,456.23 L112.75,457.98 L113.24,459.84 L113.72,461.79 L114.21,463.79 L114.70,465.81 L115.19,467.84 L115.67,469.84 L116.16,471.80 L116.65,473.69 L117.14,475.50 L117.62,477.21 L118.11,478.82 L118.60,480.32 L119.09,481.69 L119.57,482.96 L120.06,484.10 L120.55,485.13 L121.04,486.04 L121.52,486.86 L122.01,487.57 L122.50,488.19 L122.99,488.73 L123.47,489.19 L123.96,489.58 L124.45,489.92 L124.94,490.19 L125.42,490.43 L125.91,490.62 L126.40,490.78 L126.89,490.91 L127.37,491.01 L127.86,491.10 L128.35,491.17 L128.84,491.22 L129.32,491.26 L129.81,491.29 L130.30,491.32 L130.79,491.34 L131.27,491.35 L131.76,491.37 L132.25,491.38 L132.74,491.38 L133.22,491.39 L133.71,491.39 L134.20,491.39 L134.69,491.40 L135.17,491.40 L135.66,491.40 L136.15,491.40 L136.64,491.40 L137.12,491.40 L137.61,491.40 L138.10,491.40" stroke="#111" stroke-width="1.1" fill="none" />
<rect x="79.6" y="442.4" width="58.5" height="49.0" fill="none" stroke="#111" stroke-width="1.1"/>
<line x1="77.60" y1="491.40" x2="79.60" y2="491.40" stroke="#111" stroke-width="1.0" />
<text x="78.00" y="494.20" font-size="8" text-anchor="end" stroke="#111" stroke-width="0.5" fill="#111" >0</text>
<line x1="77.60" y1="469.95" x2="79.60" y2="469.95" stroke="#111" stroke-width="1.0" />
<text x="78.00" y="472.75" font-size="8" text-anchor="end" stroke="#111" stroke-width="0.5" fill="#111" >15</text>
<line x1="77.60" y1="448.50" x2="79.60" y2="448.50" stroke="#111" stroke-width="1.0" />
<text x="78.00" y="451.30" font-size="8" text-anchor="end" stroke="#111" stroke-width="0.5" fill="#111" >30</text>
<line x1="79.60" y1="491.40" x2="79.60" y2="489.40" stroke="#111" stroke-width="1.0" />
<text x="79.60" y="499.20" font-size="8" text-anchor="middle" stroke="#111" stroke-width="0.5" fill="#111" >0</text>
<line x1="108.85" y1="491.40" x2="108.85" y2="489.40" stroke="#111" stroke-width="1.0" />
<text x="108.85" y="499.20" font-size="8" text-anchor="middle" stroke="#111" stroke-width="0.5" fill="#111" >10</text>
<line x1="138.10" y1="491.40" x2="138.10" y2="489.40" stroke="#111" stroke-width="1.0" />
<text x="138.10" y="499.20" font-size="8" text-anchor="middle" stroke="#111" stroke-width="0.5" fill="#111" >20</text>
<text transform="translate(68.20,478.30) rotate(-90)" font-size="7.7" text-anchor="start" stroke="#111" stroke-width="0.5" fill="#111" >Count</text>
<text x="110.50" y="507.80" font-size="7.7" text-anchor="middle" stroke="#111" stroke-width="0.5" fill="#111" >Unfolding force (pN)</text>
<path d="M142.3,483.1 C152,484.5 160,490 163.3,504.5" stroke="#111" stroke-width="1.1" fill="none" />
<path d="M163.5,507 L160.4,501.8 L163.6,503.6 L166.3,501.6 Z" fill="#111" stroke="#111" stroke-width="0.8"/>
<line x1="335.00" y1="444.20" x2="335.00" y2="611.80" stroke="#111" stroke-width="1.5" />
<line x1="334.40" y1="611.20" x2="515.60" y2="611.20" stroke="#111" stroke-width="1.5" />
<line x1="329.50" y1="611.20" x2="335.00" y2="611.20" stroke="#111" stroke-width="1.5" />
<line x1="332.00" y1="590.45" x2="335.00" y2="590.45" stroke="#111" stroke-width="1.5" />
<line x1="329.50" y1="569.70" x2="335.00" y2="569.70" stroke="#111" stroke-width="1.5" />
<line x1="332.00" y1="548.95" x2="335.00" y2="548.95" stroke="#111" stroke-width="1.5" />
<line x1="329.50" y1="528.20" x2="335.00" y2="528.20" stroke="#111" stroke-width="1.5" />
<line x1="332.00" y1="507.45" x2="335.00" y2="507.45" stroke="#111" stroke-width="1.5" />
<line x1="329.50" y1="486.70" x2="335.00" y2="486.70" stroke="#111" stroke-width="1.5" />
<line x1="332.00" y1="465.95" x2="335.00" y2="465.95" stroke="#111" stroke-width="1.5" />
<line x1="329.50" y1="445.20" x2="335.00" y2="445.20" stroke="#111" stroke-width="1.5" />
<text x="328.00" y="615.10" font-size="13" text-anchor="end" stroke="#111" stroke-width="0.5" fill="#111" >0</text>
<text x="328.00" y="532.10" font-size="13" text-anchor="end" stroke="#111" stroke-width="0.5" fill="#111" >10</text>
<text x="328.00" y="449.10" font-size="13" text-anchor="end" stroke="#111" stroke-width="0.5" fill="#111" >20</text>
<line x1="335.20" y1="611.20" x2="335.20" y2="616.20" stroke="#111" stroke-width="1.5" />
<line x1="370.60" y1="611.20" x2="370.60" y2="614.20" stroke="#111" stroke-width="1.5" />
<line x1="406.00" y1="611.20" x2="406.00" y2="616.20" stroke="#111" stroke-width="1.5" />
<line x1="441.40" y1="611.20" x2="441.40" y2="614.20" stroke="#111" stroke-width="1.5" />
<line x1="476.80" y1="611.20" x2="476.80" y2="616.20" stroke="#111" stroke-width="1.5" />
<text x="335.20" y="628.30" font-size="13" text-anchor="middle" stroke="#111" stroke-width="0.5" fill="#111" >0</text>
<text x="406.00" y="628.30" font-size="13" text-anchor="middle" stroke="#111" stroke-width="0.5" fill="#111" >10</text>
<text x="476.80" y="628.30" font-size="13" text-anchor="middle" stroke="#111" stroke-width="0.5" fill="#111" >20</text>
<text x="425.40" y="649.50" font-size="15.5" text-anchor="middle" stroke="#111" stroke-width="0.5" fill="#111" >Extension (nm)</text>
<text transform="translate(305.70,597.70) rotate(-90)" font-size="15.5" text-anchor="start" stroke="#111" stroke-width="0.5" fill="#111" >Unfolding force (pN)</text>
<rect x="350.8" y="450.1" width="5.2" height="5.2" fill="#111"/>
<text x="361.80" y="456.50" font-size="12" text-anchor="start" stroke="#111" stroke-width="0.5" fill="#111" >Unfolding</text>
<circle cx="353.1" cy="470.6" r="2.5" fill="#fff" stroke="#111" stroke-width="1.4"/>
<text x="361.80" y="473.80" font-size="12" text-anchor="start" stroke="#111" stroke-width="0.5" fill="#111" >Refolding</text>
<path d="M335.20,611.20 L335.91,610.85 L336.62,610.50 L337.32,610.14 L338.03,609.78 L338.74,609.43 L339.45,609.07 L340.16,608.71 L340.86,608.34 L341.57,607.98 L342.28,607.61 L342.99,607.24 L343.70,606.87 L344.40,606.50 L345.11,606.12 L345.82,605.75 L346.53,605.37 L347.24,604.99 L347.94,604.60 L348.65,604.22 L349.36,603.83 L350.07,603.44 L350.78,603.05 L351.48,602.66 L352.19,602.26 L352.90,601.86 L353.61,601.46 L354.32,601.05 L355.02,600.65 L355.73,600.24 L356.44,599.82 L357.15,599.41 L357.86,598.99 L358.56,598.57 L359.27,598.15 L359.98,597.72 L360.69,597.29 L361.40,596.86 L362.10,596.42 L362.81,595.98 L363.52,595.54 L364.23,595.09 L364.94,594.64 L365.64,594.19 L366.35,593.73 L367.06,593.27 L367.77,592.80 L368.48,592.33 L369.18,591.86 L369.89,591.38 L370.60,590.90 L371.31,590.42 L372.02,589.93 L372.72,589.43 L373.43,588.93 L374.14,588.43 L374.85,587.92 L375.56,587.41 L376.26,586.89 L376.97,586.37 L377.68,585.84 L378.39,585.30 L379.10,584.76 L379.80,584.22 L380.51,583.66 L381.22,583.11 L381.93,582.54 L382.64,581.97 L383.34,581.40 L384.05,580.81 L384.76,580.22 L385.47,579.62 L386.18,579.02 L386.88,578.41 L387.59,577.79 L388.30,577.16 L389.01,576.52 L389.72,575.88 L390.42,575.23 L391.13,574.57 L391.84,573.90 L392.55,573.22 L393.26,572.53 L393.96,571.83 L394.67,571.13 L395.38,570.41 L396.09,569.68 L396.80,568.94 L397.50,568.19 L398.21,567.42 L398.92,566.65 L399.63,565.86 L400.34,565.06 L401.04,564.25 L401.75,563.43 L402.46,562.59 L403.17,561.73 L403.88,560.86 L404.58,559.98 L405.29,559.08 L406.00,558.16 L406.71,557.23 L407.42,556.28 L408.12,555.31 L408.83,554.33 L409.54,553.32 L410.25,552.30 L410.96,551.25 L411.66,550.19 L412.37,549.10 L413.08,547.99 L413.79,546.85 L414.50,545.69 L415.20,544.51 L415.91,543.30 L416.62,542.06 L417.33,540.80 L418.04,539.51 L418.74,538.18 L419.45,536.83 L420.16,535.44 L420.87,534.02 L421.58,532.56 L422.28,531.07 L422.99,529.53 L423.70,527.96 L424.41,526.35 L425.12,524.70 L425.82,523.00 L426.53,521.25 L427.24,519.45 L427.95,517.61 L428.66,515.71 L429.36,513.75 L430.07,511.74 L430.78,509.67 L431.49,507.54 L432.20,505.33 L432.90,503.06 L433.61,500.72 L434.32,498.30 L435.03,495.80 L435.74,493.22 L436.44,490.55 L437.15,487.79 L437.86,484.93 L438.57,481.97 L439.28,478.90 L439.98,475.72 L440.69,472.42 L441.40,468.99 L442.11,465.44" stroke="#111" stroke-width="1.6" fill="none" stroke-linejoin="round"/>
<line x1="392.80" y1="495.90" x2="479.00" y2="495.90" stroke="#111" stroke-width="1.7" />
<line x1="392.80" y1="493.30" x2="392.80" y2="498.50" stroke="#111" stroke-width="1.5" />
<line x1="479.00" y1="493.30" x2="479.00" y2="498.50" stroke="#111" stroke-width="1.5" />
<line x1="436.20" y1="491.10" x2="436.20" y2="500.70" stroke="#111" stroke-width="1.5" />
<line x1="433.60" y1="491.10" x2="438.80" y2="491.10" stroke="#111" stroke-width="1.4" />
<line x1="433.60" y1="500.70" x2="438.80" y2="500.70" stroke="#111" stroke-width="1.4" />
<rect x="433.10" y="492.80" width="6.2" height="6.2" fill="#111"/>
<line x1="392.30" y1="513.80" x2="461.80" y2="513.80" stroke="#111" stroke-width="1.7" />
<line x1="392.30" y1="511.20" x2="392.30" y2="516.40" stroke="#111" stroke-width="1.5" />
<line x1="461.80" y1="511.20" x2="461.80" y2="516.40" stroke="#111" stroke-width="1.5" />
<line x1="426.60" y1="509.00" x2="426.60" y2="518.60" stroke="#111" stroke-width="1.5" />
<line x1="424.00" y1="509.00" x2="429.20" y2="509.00" stroke="#111" stroke-width="1.4" />
<line x1="424.00" y1="518.60" x2="429.20" y2="518.60" stroke="#111" stroke-width="1.4" />
<rect x="423.50" y="510.70" width="6.2" height="6.2" fill="#111"/>
<line x1="396.30" y1="530.50" x2="454.20" y2="530.50" stroke="#111" stroke-width="1.7" />
<line x1="396.30" y1="527.90" x2="396.30" y2="533.10" stroke="#111" stroke-width="1.5" />
<line x1="454.20" y1="527.90" x2="454.20" y2="533.10" stroke="#111" stroke-width="1.5" />
<line x1="424.70" y1="525.70" x2="424.70" y2="535.30" stroke="#111" stroke-width="1.5" />
<line x1="422.10" y1="525.70" x2="427.30" y2="525.70" stroke="#111" stroke-width="1.4" />
<line x1="422.10" y1="535.30" x2="427.30" y2="535.30" stroke="#111" stroke-width="1.4" />
<rect x="421.60" y="527.40" width="6.2" height="6.2" fill="#111"/>
<line x1="392.80" y1="544.30" x2="442.30" y2="544.30" stroke="#111" stroke-width="1.7" />
<line x1="392.80" y1="541.70" x2="392.80" y2="546.90" stroke="#111" stroke-width="1.5" />
<line x1="442.30" y1="541.70" x2="442.30" y2="546.90" stroke="#111" stroke-width="1.5" />
<line x1="417.10" y1="539.50" x2="417.10" y2="549.10" stroke="#111" stroke-width="1.5" />
<line x1="414.50" y1="539.50" x2="419.70" y2="539.50" stroke="#111" stroke-width="1.4" />
<line x1="414.50" y1="549.10" x2="419.70" y2="549.10" stroke="#111" stroke-width="1.4" />
<rect x="414.00" y="541.20" width="6.2" height="6.2" fill="#111"/>
<line x1="382.70" y1="560.40" x2="423.20" y2="560.40" stroke="#111" stroke-width="1.7" />
<line x1="382.70" y1="557.80" x2="382.70" y2="563.00" stroke="#111" stroke-width="1.5" />
<line x1="423.20" y1="557.80" x2="423.20" y2="563.00" stroke="#111" stroke-width="1.5" />
<line x1="402.70" y1="555.60" x2="402.70" y2="565.20" stroke="#111" stroke-width="1.5" />
<line x1="400.10" y1="555.60" x2="405.30" y2="555.60" stroke="#111" stroke-width="1.4" />
<line x1="400.10" y1="565.20" x2="405.30" y2="565.20" stroke="#111" stroke-width="1.4" />
<rect x="399.60" y="557.30" width="6.2" height="6.2" fill="#111"/>
<line x1="373.90" y1="556.50" x2="434.50" y2="556.50" stroke="#111" stroke-width="1.7" />
<line x1="373.90" y1="553.90" x2="373.90" y2="559.10" stroke="#111" stroke-width="1.5" />
<line x1="434.50" y1="553.90" x2="434.50" y2="559.10" stroke="#111" stroke-width="1.5" />
<line x1="404.20" y1="551.70" x2="404.20" y2="561.30" stroke="#111" stroke-width="1.5" />
<line x1="401.60" y1="551.70" x2="406.80" y2="551.70" stroke="#111" stroke-width="1.4" />
<line x1="401.60" y1="561.30" x2="406.80" y2="561.30" stroke="#111" stroke-width="1.4" />
<circle cx="404.2" cy="556.5" r="2.9" fill="#fff" stroke="#111" stroke-width="1.6"/>
<line x1="374.20" y1="586.20" x2="398.30" y2="586.20" stroke="#111" stroke-width="1.7" />
<line x1="374.20" y1="583.60" x2="374.20" y2="588.80" stroke="#111" stroke-width="1.5" />
<line x1="398.30" y1="583.60" x2="398.30" y2="588.80" stroke="#111" stroke-width="1.5" />
<line x1="385.70" y1="581.40" x2="385.70" y2="591.00" stroke="#111" stroke-width="1.5" />
<line x1="383.10" y1="581.40" x2="388.30" y2="581.40" stroke="#111" stroke-width="1.4" />
<line x1="383.10" y1="591.00" x2="388.30" y2="591.00" stroke="#111" stroke-width="1.4" />
<circle cx="385.7" cy="586.2" r="2.9" fill="#fff" stroke="#111" stroke-width="1.6"/>
<line x1="447.50" y1="552.30" x2="428.50" y2="549.20" stroke="#111" stroke-width="1.1" />
<path d="M425.6,548.8 L430.8,546.5 L429.6,551.6 Z" fill="#111"/>
<rect x="475.71" y="579.11" width="4.78" height="12.09" fill="#c8c8c8" stroke="#111" stroke-width="0.9"/>
<rect x="480.37" y="566.56" width="4.78" height="24.64" fill="#c8c8c8" stroke="#111" stroke-width="0.9"/>
<rect x="485.02" y="549.35" width="4.78" height="41.85" fill="#c8c8c8" stroke="#111" stroke-width="0.9"/>
<rect x="489.92" y="566.56" width="4.78" height="24.64" fill="#c8c8c8" stroke="#111" stroke-width="0.9"/>
<rect x="494.57" y="572.60" width="4.78" height="18.60" fill="#c8c8c8" stroke="#111" stroke-width="0.9"/>
<path d="M468.85,591.07 L469.10,591.05 L469.34,591.03 L469.58,591.00 L469.83,590.97 L470.07,590.93 L470.32,590.89 L470.56,590.85 L470.81,590.79 L471.06,590.74 L471.30,590.67 L471.55,590.59 L471.79,590.51 L472.04,590.41 L472.28,590.30 L472.52,590.18 L472.77,590.05 L473.01,589.90 L473.26,589.74 L473.50,589.56 L473.75,589.36 L474.00,589.14 L474.24,588.90 L474.49,588.64 L474.73,588.35 L474.98,588.04 L475.22,587.70 L475.46,587.33 L475.71,586.93 L475.95,586.50 L476.20,586.03 L476.44,585.54 L476.69,585.00 L476.94,584.43 L477.18,583.83 L477.43,583.19 L477.67,582.50 L477.92,581.78 L478.16,581.03 L478.40,580.23 L478.65,579.39 L478.89,578.52 L479.14,577.61 L479.38,576.67 L479.63,575.69 L479.88,574.68 L480.12,573.65 L480.37,572.58 L480.61,571.49 L480.86,570.38 L481.10,569.26 L481.35,568.12 L481.59,566.97 L481.83,565.82 L482.08,564.66 L482.32,563.52 L482.57,562.38 L482.81,561.25 L483.06,560.15 L483.31,559.08 L483.55,558.03 L483.80,557.02 L484.04,556.05 L484.29,555.13 L484.53,554.27 L484.77,553.46 L485.02,552.71 L485.26,552.03 L485.51,551.42 L485.75,550.88 L486.00,550.42 L486.25,550.04 L486.49,549.74 L486.74,549.52 L486.98,549.39 L487.23,549.35 L487.47,549.39 L487.71,549.52 L487.96,549.74 L488.20,550.04 L488.45,550.42 L488.69,550.88 L488.94,551.42 L489.19,552.03 L489.43,552.71 L489.68,553.46 L489.92,554.27 L490.17,555.13 L490.41,556.05 L490.66,557.02 L490.90,558.03 L491.14,559.08 L491.39,560.15 L491.63,561.25 L491.88,562.38 L492.12,563.52 L492.37,564.66 L492.62,565.82 L492.86,566.97 L493.11,568.12 L493.35,569.26 L493.60,570.38 L493.84,571.49 L494.08,572.58 L494.33,573.65 L494.57,574.68 L494.82,575.69 L495.06,576.67 L495.31,577.61 L495.56,578.52 L495.80,579.39 L496.05,580.23 L496.29,581.03 L496.54,581.78 L496.78,582.50 L497.02,583.19 L497.27,583.83 L497.51,584.43 L497.76,585.00 L498.00,585.54 L498.25,586.03 L498.50,586.50 L498.74,586.93 L498.99,587.33 L499.23,587.70 L499.48,588.04 L499.72,588.35 L499.97,588.64 L500.21,588.90 L500.45,589.14 L500.70,589.36 L500.94,589.56 L501.19,589.74 L501.44,589.90 L501.68,590.05 L501.93,590.18 L502.17,590.30 L502.42,590.41 L502.66,590.51 L502.90,590.59 L503.15,590.67 L503.39,590.74 L503.64,590.79 L503.88,590.85 L504.13,590.89 L504.38,590.93 L504.62,590.97 L504.87,591.00 L505.11,591.03 L505.36,591.05 L505.60,591.07" stroke="#111" stroke-width="1.1" fill="none" />
<rect x="461.5" y="541.5" width="57.299999999999955" height="49.700000000000045" fill="none" stroke="#111" stroke-width="1.1"/>
<line x1="459.50" y1="591.20" x2="461.50" y2="591.20" stroke="#111" stroke-width="1.0" />
<text x="459.00" y="594.00" font-size="8" text-anchor="end" stroke="#111" stroke-width="0.5" fill="#111" >0</text>
<line x1="459.50" y1="572.60" x2="461.50" y2="572.60" stroke="#111" stroke-width="1.0" />
<text x="459.00" y="575.40" font-size="8" text-anchor="end" stroke="#111" stroke-width="0.5" fill="#111" >20</text>
<line x1="459.50" y1="554.00" x2="461.50" y2="554.00" stroke="#111" stroke-width="1.0" />
<text x="459.00" y="556.80" font-size="8" text-anchor="end" stroke="#111" stroke-width="0.5" fill="#111" >40</text>
<line x1="461.50" y1="591.20" x2="461.50" y2="589.20" stroke="#111" stroke-width="1.0" />
<text x="461.50" y="599.50" font-size="8" text-anchor="middle" stroke="#111" stroke-width="0.5" fill="#111" >0</text>
<line x1="486.00" y1="591.20" x2="486.00" y2="589.20" stroke="#111" stroke-width="1.0" />
<text x="486.00" y="599.50" font-size="8" text-anchor="middle" stroke="#111" stroke-width="0.5" fill="#111" >10</text>
<line x1="510.50" y1="591.20" x2="510.50" y2="589.20" stroke="#111" stroke-width="1.0" />
<text x="510.50" y="599.50" font-size="8" text-anchor="middle" stroke="#111" stroke-width="0.5" fill="#111" >20</text>
<text transform="translate(448.20,579.20) rotate(-90)" font-size="7.7" text-anchor="start" stroke="#111" stroke-width="0.5" fill="#111" >Count</text>
<text x="493.00" y="605.50" font-size="7.7" text-anchor="middle" stroke="#111" stroke-width="0.5" fill="#111" >Extension (nm)</text>
</svg>
</body></html>
